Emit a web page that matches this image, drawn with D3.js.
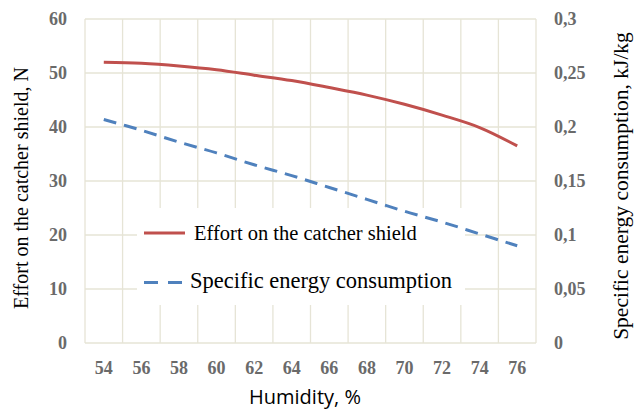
<!DOCTYPE html>
<html><head><meta charset="utf-8">
<script src="https://cdn.jsdelivr.net/npm/d3@7"></script>
<style>body{margin:0;background:#fff;}svg{display:block;}</style>
</head><body>
<svg id="c" width="635" height="412"></svg>
<script>
const humidity = [54, 56, 58, 60, 62, 64, 66, 68, 70, 72, 74, 76];
const effort = [52.0, 51.8, 51.3, 50.6, 49.6, 48.6, 47.3, 45.9, 44.2, 42.2, 39.9, 36.5];
const energy = [0.207, 0.197, 0.186, 0.176, 0.165, 0.155, 0.144, 0.133, 0.122, 0.112, 0.101, 0.090];
const leftTicks = [0, 10, 20, 30, 40, 50, 60];
const rightTicks = [0, 0.05, 0.1, 0.15, 0.2, 0.25, 0.3];
const rightLabels = ["0", "0,05", "0,1", "0,15", "0,2", "0,25", "0,3"];
const seriesNames = ["Effort on the catcher shield", "Specific energy consumption"];

const svg = d3.select("#c");
const L = 85, R = 536, T = 19, B = 343;
const x = d3.scaleBand().domain(humidity).range([L, R]);
const yL = d3.scaleLinear().domain([0, 60]).range([B, T]);
const yR = d3.scaleLinear().domain([0, 0.3]).range([B, T]);
const grid = "#e6e4d6";
const serif = "'Liberation Serif','Times New Roman',serif";

// gridlines
svg.append("g").selectAll("line").data(leftTicks).join("line")
  .attr("x1", L).attr("x2", R).attr("y1", d => yL(d)).attr("y2", d => yL(d))
  .attr("stroke", grid).attr("stroke-width", 1.3);
const vx = humidity.map(d => x(d)).concat([R]);
svg.append("g").selectAll("line").data(vx).join("line")
  .attr("x1", d => d).attr("x2", d => d).attr("y1", T).attr("y2", B)
  .attr("stroke", grid).attr("stroke-width", 1.3);

// axes
const axL = svg.append("g").attr("transform", `translate(${L - 18},0)`)
  .call(d3.axisLeft(yL).tickValues(leftTicks).tickSize(0).tickPadding(0));
const axR = svg.append("g").attr("transform", `translate(${R + 18},0)`)
  .call(d3.axisRight(yR).tickValues(rightTicks).tickSize(0).tickPadding(0)
    .tickFormat((d, i) => rightLabels[i]));
const axB = svg.append("g").attr("transform", `translate(0,${B + 25})`)
  .call(d3.axisBottom(x).tickSize(0).tickPadding(0));
[axL, axR, axB].forEach(a => {
  a.select(".domain").remove();
  a.selectAll("text").attr("font-family", serif).attr("font-size", 18)
    .attr("font-weight", "bold").attr("fill", "#6a6a6a");
});
axB.selectAll("text").attr("dy", "0.32em");

// legend box
const legend = svg.append("g");
legend.append("rect").attr("x", 137).attr("y", 208).attr("width", 328).attr("height", 97)
  .attr("fill", "#fff");

// lines
const lineL = d3.line().x((d, i) => x(humidity[i]) + x.bandwidth() / 2).y(d => yL(d)).curve(d3.curveCatmullRom);
const lineR = d3.line().x((d, i) => x(humidity[i]) + x.bandwidth() / 2).y(d => yR(d)).curve(d3.curveCatmullRom);
svg.append("path").attr("d", lineL(effort)).attr("fill", "none")
  .attr("stroke", "#c0504d").attr("stroke-width", 3);
svg.append("path").attr("d", lineR(energy)).attr("fill", "none")
  .attr("stroke", "#4f81bd").attr("stroke-width", 3).attr("stroke-dasharray", "13,8");

// legend items
legend.append("line").attr("x1", 144).attr("x2", 185).attr("y1", 233).attr("y2", 233)
  .attr("stroke", "#c0504d").attr("stroke-width", 3);
legend.append("text").attr("x", 194).attr("y", 240).text(seriesNames[0])
  .attr("font-family", serif).attr("font-size", 20.5).attr("fill", "#000");
legend.append("line").attr("x1", 144).attr("x2", 183).attr("y1", 282.5).attr("y2", 282.5)
  .attr("stroke", "#4f81bd").attr("stroke-width", 3).attr("stroke-dasharray", "14,10");
legend.append("text").attr("x", 190).attr("y", 288).text(seriesNames[1])
  .attr("font-family", serif).attr("font-size", 22.5).attr("fill", "#000");

// axis titles
svg.append("text").attr("transform", "translate(28,188) rotate(-90)")
  .attr("text-anchor", "middle").attr("font-family", serif).attr("font-size", 20)
  .text("Effort on the catcher shield, N");
svg.append("text").attr("transform", "translate(628,186) rotate(-90)")
  .attr("text-anchor", "middle").attr("font-family", serif).attr("font-size", 21.5)
  .text("Specific energy consumption, kJ/kg");
svg.append("text").attr("x", 305).attr("y", 404).attr("text-anchor", "middle")
  .attr("font-family", "'Open Sans','Liberation Sans',sans-serif").attr("font-size", 20)
  .text("Humidity, %");
</script>
</body></html>
